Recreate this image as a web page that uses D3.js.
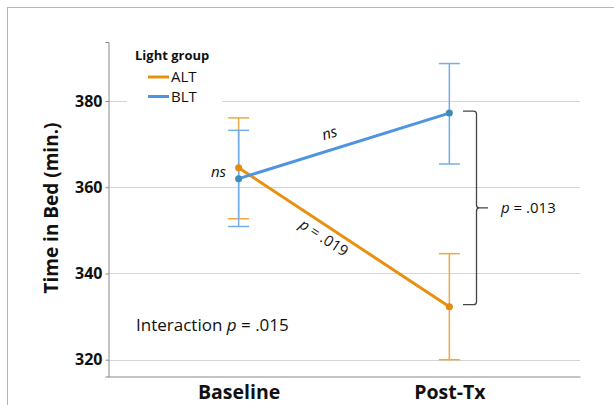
<!DOCTYPE html>
<html lang="en">
  <head>
    <meta charset="UTF-8" />
    <title>Time in Bed by Light group</title>
    <style>
      body { margin: 0; background: #fff; }
      svg { display: block; font-family: "Open Sans", sans-serif; }
    </style>
  </head>
  <body>
    <script src="https://d3js.org/d3.v7.min.js"></script>
    <svg id="chart" width="614" height="405"></svg>
    <script>
      // data
      var phases = ["Baseline", "Post-Tx"];
      var yTicks = [320, 340, 360, 380];
      var altMean = [364.5, 332.3];
      var altLow = [352.7, 320.0];
      var altHigh = [376.1, 344.6];
      var bltMean = [362.0, 377.2];
      var bltLow = [350.9, 365.4];
      var bltHigh = [373.2, 388.7];

      var orange = "#E8900F", orangeBar = "#F0A745";
      var blue = "#4F94E0", blueBar = "#74ACEA";

      var svg = d3.select("#chart");

      // outer frame
      svg.append("rect")
        .attr("x", 7.5).attr("y", 7.5)
        .attr("width", 640).attr("height", 440)
        .attr("fill", "none").attr("stroke", "#b5b5b5");

      var x = d3.scalePoint().domain(phases).range([108, 580]).padding(0.62);
      var y = d3.scaleLinear().domain([316.1, 393.7]).range([376.5, 42]);

      // gridlines
      svg.append("g")
        .selectAll("line")
        .data(yTicks)
        .enter()
        .append("line")
        .attr("x1", 108).attr("x2", 580)
        .attr("y1", function (d) { return Math.round(y(d)) + 0.5; })
        .attr("y2", function (d) { return Math.round(y(d)) + 0.5; })
        .attr("stroke", "#d4d4d4").attr("stroke-width", 1);

      // axes
      var yAxis = svg.append("g")
        .attr("transform", "translate(108.5,0)")
        .call(d3.axisLeft(y).tickValues(yTicks).tickSize(3).tickPadding(3));
      yAxis.select(".domain").attr("stroke", "#888");
      yAxis.selectAll(".tick line").attr("stroke", "#888");
      yAxis.selectAll("text")
        .attr("font-family", "Open Sans").attr("font-size", 16)
        .attr("font-weight", "bold").attr("fill", "#111");

      var xAxis = svg.append("g")
        .attr("transform", "translate(0,376.5)")
        .call(d3.axisBottom(x).tickSize(0).tickPadding(0));
      xAxis.select(".domain").attr("stroke", "#888");
      xAxis.selectAll("text")
        .attr("dy", 0).attr("y", 22.5)
        .attr("font-family", "Open Sans").attr("font-size", 19.5)
        .attr("font-weight", "bold").attr("fill", "#111");

      svg.append("text")
        .attr("transform", "translate(58,208) rotate(-90)")
        .attr("text-anchor", "middle")
        .attr("font-size", 19).attr("font-weight", "bold").attr("fill", "#111")
        .text("Time in Bed (min.)");

      // legend (white box hides the gridline)
      var leg = svg.append("g");
      leg.append("rect").attr("x", 127).attr("y", 43).attr("width", 95).attr("height", 62).attr("fill", "#fff");
      leg.append("text").attr("x", 135).attr("y", 60)
        .attr("font-size", 13).attr("font-weight", "bold").attr("fill", "#111")
        .text("Light group");
      [["ALT", orange, 77], ["BLT", blue, 96.5]].forEach(function (e) {
        leg.append("line").attr("x1", 148).attr("x2", 169).attr("y1", e[2]).attr("y2", e[2])
          .attr("stroke", e[1]).attr("stroke-width", 3);
        leg.append("text").attr("x", 171).attr("y", e[2] + 5)
          .attr("font-size", 15).attr("fill", "#111").text(e[0]);
      });

      // error bars
      function errorBars(low, high, col) {
        var g = svg.append("g").attr("stroke", col).attr("stroke-width", 1.5);
        phases.forEach(function (p, i) {
          g.append("line").attr("x1", x(p)).attr("x2", x(p)).attr("y1", y(low[i])).attr("y2", y(high[i]));
          g.append("line").attr("x1", x(p) - 10.5).attr("x2", x(p) + 10.5).attr("y1", y(low[i])).attr("y2", y(low[i]));
          g.append("line").attr("x1", x(p) - 10.5).attr("x2", x(p) + 10.5).attr("y1", y(high[i])).attr("y2", y(high[i]));
        });
      }
      errorBars(altLow, altHigh, orangeBar);
      errorBars(bltLow, bltHigh, blueBar);

      var line = d3.line()
        .x(function (d, i) { return x(phases[i]); })
        .y(function (d) { return y(d); });

      svg.append("path").datum(altMean).attr("d", line)
        .attr("fill", "none").attr("stroke", orange).attr("stroke-width", 3);
      svg.append("path").datum(bltMean).attr("d", line)
        .attr("fill", "none").attr("stroke", blue).attr("stroke-width", 3);

      svg.selectAll(".altDot").data(altMean).enter().append("circle")
        .attr("cx", function (d, i) { return x(phases[i]); })
        .attr("cy", function (d) { return y(d); })
        .attr("r", 3.5).attr("fill", "#E58A0A");
      svg.selectAll(".bltDot").data(bltMean).enter().append("circle")
        .attr("cx", function (d, i) { return x(phases[i]); })
        .attr("cy", function (d) { return y(d); })
        .attr("r", 3.5).attr("fill", "#3C8DB8");

      // annotations
      var x0 = x(phases[0]), x1 = x(phases[1]);
      var bAng = Math.atan2(y(bltMean[1]) - y(bltMean[0]), x1 - x0) * 180 / Math.PI;
      var aAng = Math.atan2(y(altMean[1]) - y(altMean[0]), x1 - x0) * 180 / Math.PI;

      svg.append("text").attr("x", 226).attr("y", 177)
        .attr("text-anchor", "end").attr("font-size", 15).attr("font-style", "italic")
        .attr("fill", "#111").text("ns");

      svg.append("text")
        .attr("transform", "translate(331,138) rotate(" + bAng + ")")
        .attr("text-anchor", "middle").attr("font-size", 15).attr("font-style", "italic")
        .attr("fill", "#111").text("ns");

      var t019 = svg.append("text")
        .attr("transform", "translate(321,242) rotate(" + aAng + ")")
        .attr("text-anchor", "middle").attr("font-size", 15).attr("fill", "#111");
      t019.append("tspan").attr("font-style", "italic").text("p");
      t019.append("tspan").text(" = .019");

      // bracket between post-Tx means
      var bTop = y(bltMean[1]) - 2, bBot = y(altMean[1]) - 2, bMid = (bTop + bBot) / 2;
      var bx = 476.5;
      svg.append("path")
        .attr("d", "M463," + bTop + " L" + (bx - 3) + "," + bTop + " Q" + bx + "," + bTop + " " + bx + "," + (bTop + 3)
          + " L" + bx + "," + (bMid - 3) + " Q" + bx + "," + bMid + " " + (bx + 3) + "," + bMid + " L488," + bMid
          + " M" + (bx + 3) + "," + bMid + " Q" + bx + "," + bMid + " " + bx + "," + (bMid + 3)
          + " L" + bx + "," + (bBot - 3) + " Q" + bx + "," + bBot + " " + (bx - 3) + "," + bBot + " L463," + bBot)
        .attr("fill", "none").attr("stroke", "#444").attr("stroke-width", 1.3);

      var t013 = svg.append("text").attr("x", 501).attr("y", bMid + 5.5)
        .attr("font-size", 15).attr("fill", "#111");
      t013.append("tspan").attr("font-style", "italic").text("p");
      t013.append("tspan").text(" = .013");

      var tInt = svg.append("text").attr("x", 136).attr("y", 331)
        .attr("font-size", 17).attr("fill", "#111");
      tInt.append("tspan").text("Interaction ");
      tInt.append("tspan").attr("font-style", "italic").text("p");
      tInt.append("tspan").text(" = .015");
    </script>
  </body>
</html>
